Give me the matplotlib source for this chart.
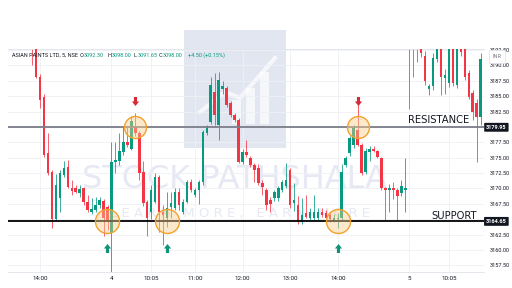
import numpy as np
import matplotlib.pyplot as plt
from matplotlib.patches import Rectangle

# 5-minute candles, index 0 = 9:15 of day "4"
first_idx = -20
opens = [3196.0, 3195.0, 3188.2, 3184.9, 3175.8, 3172.7, 3165.0, 3168.4, 3172.2, 3173.5,
         3170.1, 3170.0, 3169.2, 3170.0, 3167.85, 3166.2, 3166.5, 3167.3, 3168.0, 3167.0,
         # day 4
         3162.7, 3174.3, 3174.4, 3176.0, 3177.5, 3176.5, 3180.05, 3179.0, 3172.7, 3167.85,
         3166.2, 3167.85, 3171.9, 3166.2, 3165.15, 3167.0, 3166.8, 3169.5, 3166.2, 3167.85,
         3171.1, 3168.94, 3169.76, 3171.1, 3179.1, 3180.86, 3185.74, 3180.32, 3186.2, 3186.3,
         3183.85, 3181.95, 3181.14, 3174.36, 3176.0, 3174.9, 3173.8, 3173.3, 3170.9, 3169.76,
         3168.1, 3168.46, 3168.5, 3169.76, 3170.4, 3173.0, 3167.6, 3167.3, 3164.6, 3166.0,
         3165.15, 3165.15, 3165.2, 3166.2, 3166.0, 3165.7, 3164.9, 3165.0, 3165.15, 3173.8,
         3175.7, 3177.1, 3179.5, 3177.1, 3172.7, 3176.0, 3176.5, 3176.1, 3174.9, 3170.1,
         3169.8, 3170.1, 3169.8, 3169.3, 3169.8,
         # day 5
         3197.0, 3196.0, 3196.5, 3194.0, 3191.5, 3186.2, 3186.6, 3191.0, 3193.5, 3188.0,
         3187.1, 3193.8, 3186.8, 3193.5, 3193.0, 3188.7, 3185.6, 3183.85, 3181.7]
highs = [3197.0, 3195.5, 3188.6, 3185.3, 3179.0, 3173.0, 3172.3, 3173.0, 3174.4, 3174.6,
         3171.4, 3170.6, 3170.5, 3170.3, 3169.0, 3168.5, 3168.6, 3168.6, 3168.3, 3167.3,
         3177.6, 3177.6, 3179.0, 3180.0, 3180.0, 3181.8, 3182.2, 3179.3, 3174.4, 3168.2,
         3170.6, 3172.5, 3172.2, 3167.3, 3169.5, 3169.5, 3170.0, 3170.0, 3168.3, 3171.4,
         3171.5, 3170.0, 3171.4, 3179.5, 3180.3, 3188.2, 3188.7, 3189.0, 3187.4, 3186.6,
         3184.2, 3182.3, 3181.5, 3176.5, 3177.9, 3175.3, 3174.2, 3174.0, 3171.4, 3170.1,
         3168.6, 3169.8, 3170.4, 3171.4, 3174.1, 3173.3, 3170.9, 3168.8, 3168.5, 3168.9,
         3166.8, 3169.0, 3166.8, 3166.9, 3166.5, 3166.1, 3165.9, 3166.0, 3174.0, 3175.3,
         3178.6, 3180.4, 3183.85, 3177.4, 3176.6, 3176.9, 3176.9, 3176.3, 3175.1, 3170.3,
         3170.8, 3171.0, 3170.1, 3171.4, 3174.9,
         3199.0, 3197.0, 3198.0, 3195.0, 3192.3, 3187.0, 3192.0, 3195.0, 3195.0, 3189.5,
         3195.0, 3195.0, 3194.5, 3194.5, 3194.0, 3189.2, 3186.0, 3184.6, 3192.0]
lows = [3190.1, 3188.0, 3183.1, 3175.2, 3172.2, 3163.6, 3164.9, 3166.2, 3171.9, 3170.0,
        3169.0, 3169.2, 3168.6, 3167.3, 3166.2, 3165.8, 3166.2, 3166.9, 3162.2, 3163.3,
        3156.0, 3172.5, 3173.8, 3175.5, 3176.8, 3176.3, 3178.6, 3171.4, 3167.2, 3162.2,
        3165.1, 3167.6, 3163.0, 3160.8, 3163.8, 3165.2, 3166.5, 3166.5, 3165.9, 3167.6,
        3169.5, 3168.6, 3167.4, 3170.6, 3178.7, 3180.5, 3180.3, 3177.9, 3185.4, 3183.3,
        3181.7, 3180.8, 3174.1, 3174.0, 3175.2, 3173.5, 3171.1, 3170.5, 3169.0, 3166.5,
        3166.2, 3168.0, 3167.9, 3169.5, 3170.1, 3166.8, 3166.3, 3164.3, 3164.3, 3165.2,
        3164.9, 3164.9, 3164.8, 3165.4, 3164.9, 3164.6, 3164.6, 3163.6, 3164.9, 3173.5,
        3175.3, 3176.6, 3176.9, 3172.2, 3172.4, 3174.5, 3175.9, 3174.9, 3169.7, 3164.9,
        3166.2, 3168.3, 3164.9, 3168.8, 3166.2,
        3183.0, 3188.1, 3190.6, 3191.3, 3186.9, 3185.2, 3186.0, 3190.5, 3185.2, 3185.3,
        3186.5, 3186.6, 3186.3, 3191.6, 3187.6, 3184.5, 3181.2, 3174.36, 3180.3]
closes = [3194.0, 3188.2, 3184.4, 3175.45, 3172.5, 3165.0, 3170.6, 3172.5, 3173.4, 3170.3,
          3169.6, 3169.5, 3169.9, 3167.85, 3166.5, 3166.7, 3167.3, 3168.1, 3165.15, 3164.9,
          3174.3, 3174.7, 3176.1, 3177.6, 3177.1, 3180.9, 3179.1, 3172.5, 3167.6, 3165.15,
          3169.76, 3171.9, 3166.2, 3165.7, 3166.8, 3167.6, 3169.5, 3167.3, 3167.85, 3171.1,
          3169.76, 3169.76, 3171.1, 3179.2, 3180.05, 3186.83, 3181.95, 3187.64, 3186.7, 3183.6,
          3181.95, 3181.14, 3174.36, 3175.98, 3175.45, 3173.8, 3173.0, 3170.9, 3170.2, 3167.3,
          3167.5, 3169.4, 3170.1, 3171.1, 3171.4, 3167.3, 3168.1, 3164.6, 3165.7, 3165.4,
          3166.2, 3166.2, 3166.1, 3165.7, 3165.15, 3165.0, 3165.2, 3165.1, 3172.7, 3174.9,
          3178.2, 3179.8, 3177.1, 3172.5, 3176.1, 3176.5, 3176.1, 3175.2, 3170.0, 3169.8,
          3170.0, 3169.8, 3168.7, 3170.4, 3170.0,
          3195.0, 3194.5, 3194.0, 3192.1, 3187.4, 3186.6, 3191.2, 3193.5, 3188.1, 3188.4,
          3193.8, 3187.1, 3193.5, 3192.2, 3188.1, 3184.9, 3182.5, 3181.7, 3191.0]

tick_idx = [-18, 0, 10, 21, 33, 45, 57, 75, 85]
tick_labels = ["14:00", "4", "10:05", "11:00", "12:00", "13:00", "14:00", "5", "10:05"]
price_ticks = np.arange(3157.5, 3192.6, 2.5)

resistance = 3179.95
support = 3164.65
res_touch_idx = [5.9, 62.0]
sup_touch_idx = [-1.2, 13.9, 57.0]

header_name = "ASIAN PAINTS LTD, 5, NSE"
header_ohlc = [("O", "3092.30"), ("H", "3098.00"), ("L", "3091.65"), ("C", "3098.00")]
header_change = "+4.50 (+0.15%)"

GREEN = "#089981"
RED = "#F23645"
W, H = 512, 288


def fx(x):
    return x / W


def fy(y):
    return 1 - y / H


fig = plt.figure(figsize=(5.12, 2.88), dpi=100)
ax = fig.add_axes([fx(8), fy(272), (484 - 8) / W, (272 - 49) / H])

# watermark (behind the candles)
ax.add_patch(Rectangle((fx(184), fy(148)), 102 / W, 118 / H, transform=fig.transFigure,
                       color="#D9DEEC", alpha=0.75, zorder=0.3, clip_on=False, lw=0))
for x0, y0, bw in [(232, 100, 9), (246, 88, 9), (260, 72, 9)]:
    ax.add_patch(Rectangle((fx(x0), fy(124)), bw / W, (124 - y0) / H, transform=fig.transFigure,
                           color="white", alpha=0.7, zorder=0.35, clip_on=False, lw=0))
ax.plot([fx(200), fx(225), fx(240), fx(275)], [fy(112), fy(92), fy(98), fy(58)],
        transform=fig.transFigure, color="white", lw=3, alpha=0.7, zorder=0.35, clip_on=False)
ax.text(fx(234), fy(180), "STOCK PATHSHALA", transform=fig.transFigure, ha="center",
        va="center", fontsize=23, color="#E6E8F3", zorder=0.4)
ax.text(fx(240), fy(214), "L E A R N   M O R E ,   E A R N   M O R E", transform=fig.transFigure,
        ha="center", va="center", fontsize=9.5, color="#E6E8F3", zorder=0.4)

# candles
idx = np.arange(first_idx, first_idx + len(opens))
o, h, l, c = (np.array(v) for v in (opens, highs, lows, closes))
col = np.where(c >= o, GREEN, RED)
ax.vlines(idx, l, h, colors=col, lw=0.55, zorder=2)
ax.bar(idx, np.maximum(np.abs(c - o), 0.15), bottom=np.minimum(o, c), width=0.64,
       color=col, lw=0, zorder=3)

# support / resistance
ax.axhline(resistance, color="#7A7D88", lw=1.3, zorder=4)
ax.axhline(support, color="black", lw=1.3, zorder=4)
ax.text(74.6, 3180.7, "RESISTANCE", fontsize=7.2, color="#131722", zorder=6)
ax.text(80.65, 3164.97, "SUPPORT", fontsize=7.2, color="#131722", zorder=6)

ax.scatter(res_touch_idx, [resistance] * 2, s=250, facecolor=(0.98, 0.80, 0.55, 0.45),
           edgecolor="#F2A22C", lw=1.0, zorder=5)
ax.scatter(sup_touch_idx, [support] * 3, s=300, facecolor=(0.98, 0.80, 0.55, 0.45),
           edgecolor="#F2A22C", lw=1.0, zorder=5)

up_arrow = [(-0.35, -1), (0.35, -1), (0.35, 0), (0.8, 0), (0, 1), (-0.8, 0), (-0.35, 0), (-0.35, -1)]
down_arrow = [(vx, -vy) for vx, vy in up_arrow]
ax.scatter(res_touch_idx, [3184.2] * 2, marker=down_arrow, s=42, color="#D42A3A", lw=0, zorder=6)
ax.scatter(sup_touch_idx, [3160.3] * 3, marker=up_arrow, s=42, color="#10937A", lw=0, zorder=6)

# axes
ax.set_xlim(-26.07, 93.83)
ax.set_ylim(3156.42, 3192.68)
ax.set_xticks(tick_idx)
ax.set_xticklabels(tick_labels)
ax.yaxis.tick_right()
ax.set_yticks(price_ticks)
# 3180 and 3165 sit under the level boxes
ax.set_yticklabels(["" if abs(v - 3180) < 0.1 or abs(v - 3165) < 0.1 else f"{v:.2f}"
                    for v in price_ticks])
ax.tick_params(length=0, labelsize=4, labelcolor="#131722", labelfontfamily="Roboto")
ax.tick_params(axis="x", pad=3, labelsize=4.5)
ax.tick_params(axis="y", pad=4)
ax.grid(color="#EEF0F5", lw=0.6, zorder=0.2)
for side in ["left", "right"]:
    ax.spines[side].set_visible(False)
for side in ["top", "bottom"]:
    ax.spines[side].set_color("#E0E3EB")
    ax.spines[side].set_linewidth(0.6)

# price boxes on the right scale
for lvl in (resistance, support):
    ax.text(1.026, lvl, f"{lvl:.2f}", transform=ax.get_yaxis_transform(), ha="center",
            va="center", fontsize=4, color="white", fontweight="bold", family="Roboto",
            bbox=dict(boxstyle="round,pad=0.35,rounding_size=0.15", fc="#131722", ec="none"),
            clip_on=False, zorder=7)
fig.text(fx(497), fy(56.5), "INR", ha="center", va="center", fontsize=4, color="#787B86",
         family="Roboto", bbox=dict(boxstyle="square,pad=0.7", fc="white", ec="#E0E3EB", lw=0.6))

# header: letters dark, numbers teal, each piece placed after the previous one
renderer = fig.canvas.get_renderer()
hdr = dict(fontsize=4.0, family="Roboto", va="center")
fig.text(fx(12), fy(55.5), header_name, color="#131722", **hdr)
for x0, (letter, num) in zip([80, 107, 134, 159], header_ohlc):
    t = fig.text(fx(x0), fy(55.5), letter, color="#131722", **hdr)
    x1 = t.get_window_extent(renderer).x1
    fig.text(fx(x1 + 0.3), fy(55.5), num, color="#089981", **hdr)
fig.text(fx(188), fy(55.5), header_change, color="#089981", **hdr)

fig.savefig("out.png", dpi=100)
